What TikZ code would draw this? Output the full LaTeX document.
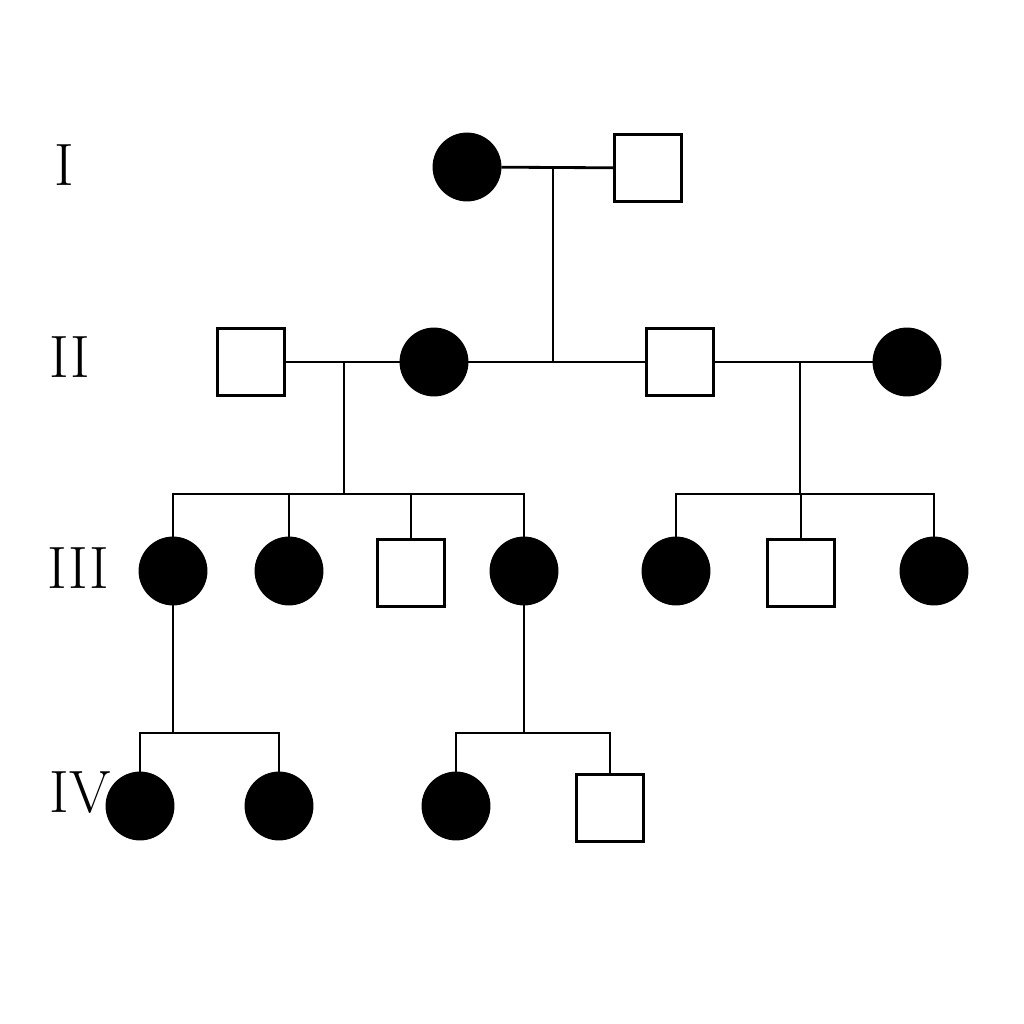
\documentclass[tikz,border=0pt]{standalone}
\usetikzlibrary{positioning}
\begin{document}
\begin{tikzpicture}[x=0.01cm,y=-0.01cm,line width=0.8pt,
    female/.style={circle,draw,fill=black,minimum size=0.66cm,inner sep=0pt},
    male/.style={rectangle,draw,fill=white,minimum size=0.67cm,inner sep=0pt},
    gen label/.style={font=\fontsize{17}{19}\selectfont}]
        \useasboundingbox (0,0) rectangle (1024,1024);

        % Generation labels
        \node[gen label] at (64,165) (lI)   {I};
        \node[gen label] at (70,357) (lII)  {II};
        \node[gen label] at (78,568) (lIII) {III};
        \node[gen label] at (80,793) (lIV)  {IV};

        % Generation I
        \node[female] at (467,167) (i1) {};
        \node[male]   at (648,168) (i2) {};

        % Generation II
        \node[male]   at (251,362) (ii1) {};
        \node[female] at (434,362) (ii2) {};
        \node[male]   at (680,362) (ii3) {};
        \node[female] at (907,362) (ii4) {};

        % Generation III
        \node[female] at (173,571) (iii1) {};
        \node[female] at (289,571) (iii2) {};
        \node[male]   at (411,573) (iii3) {};
        \node[female] at (524,571) (iii4) {};
        \node[female] at (676,571) (iii5) {};
        \node[male]   at (801,573) (iii6) {};
        \node[female] at (934,571) (iii7) {};

        % Generation IV
        \node[female] at (140,806) (iv1) {};
        \node[female] at (279,806) (iv2) {};
        \node[female] at (456,806) (iv3) {};
        \node[male]   at (610,808) (iv4) {};

        % Marriage and descent points
        \coordinate (m1) at (553,168);
        \coordinate (d1) at (553,361);
        \coordinate (m2) at (344,362);
        \coordinate (d2) at (344,494);
        \coordinate (m3) at (800,362);
        \coordinate (d3) at (800,494);
        \coordinate (d4) at (173,733);
        \coordinate (d5) at (524,733);

        % Matings
        \draw (i1) -- (i2);
        \draw (ii1) -- (ii2);
        \draw (ii2) -- (ii3);
        \draw (ii3) -- (ii4);

        % Descent lines
        \draw (m1) -- (d1);
        \draw (m2) -- (d2);
        \draw (m3) -- (d3);
        \draw (iii1) -- (d4);
        \draw (iii4) -- (d5);

        % Sibships
        \draw (iii1.north) |- (d2) -| (iii4.north);
        \draw (iii2.north) -- (iii2.north |- d2);
        \draw (iii3.north) -- (iii3.north |- d2);
        \draw (iii5.north) |- (d3) -| (iii7.north);
        \draw (iii6.north) -- (iii6.north |- d3);
        \draw (iv1.north) |- (d4) -| (iv2.north);
        \draw (iv3.north) |- (d5) -| (iv4.north);
\end{tikzpicture}
\end{document}
